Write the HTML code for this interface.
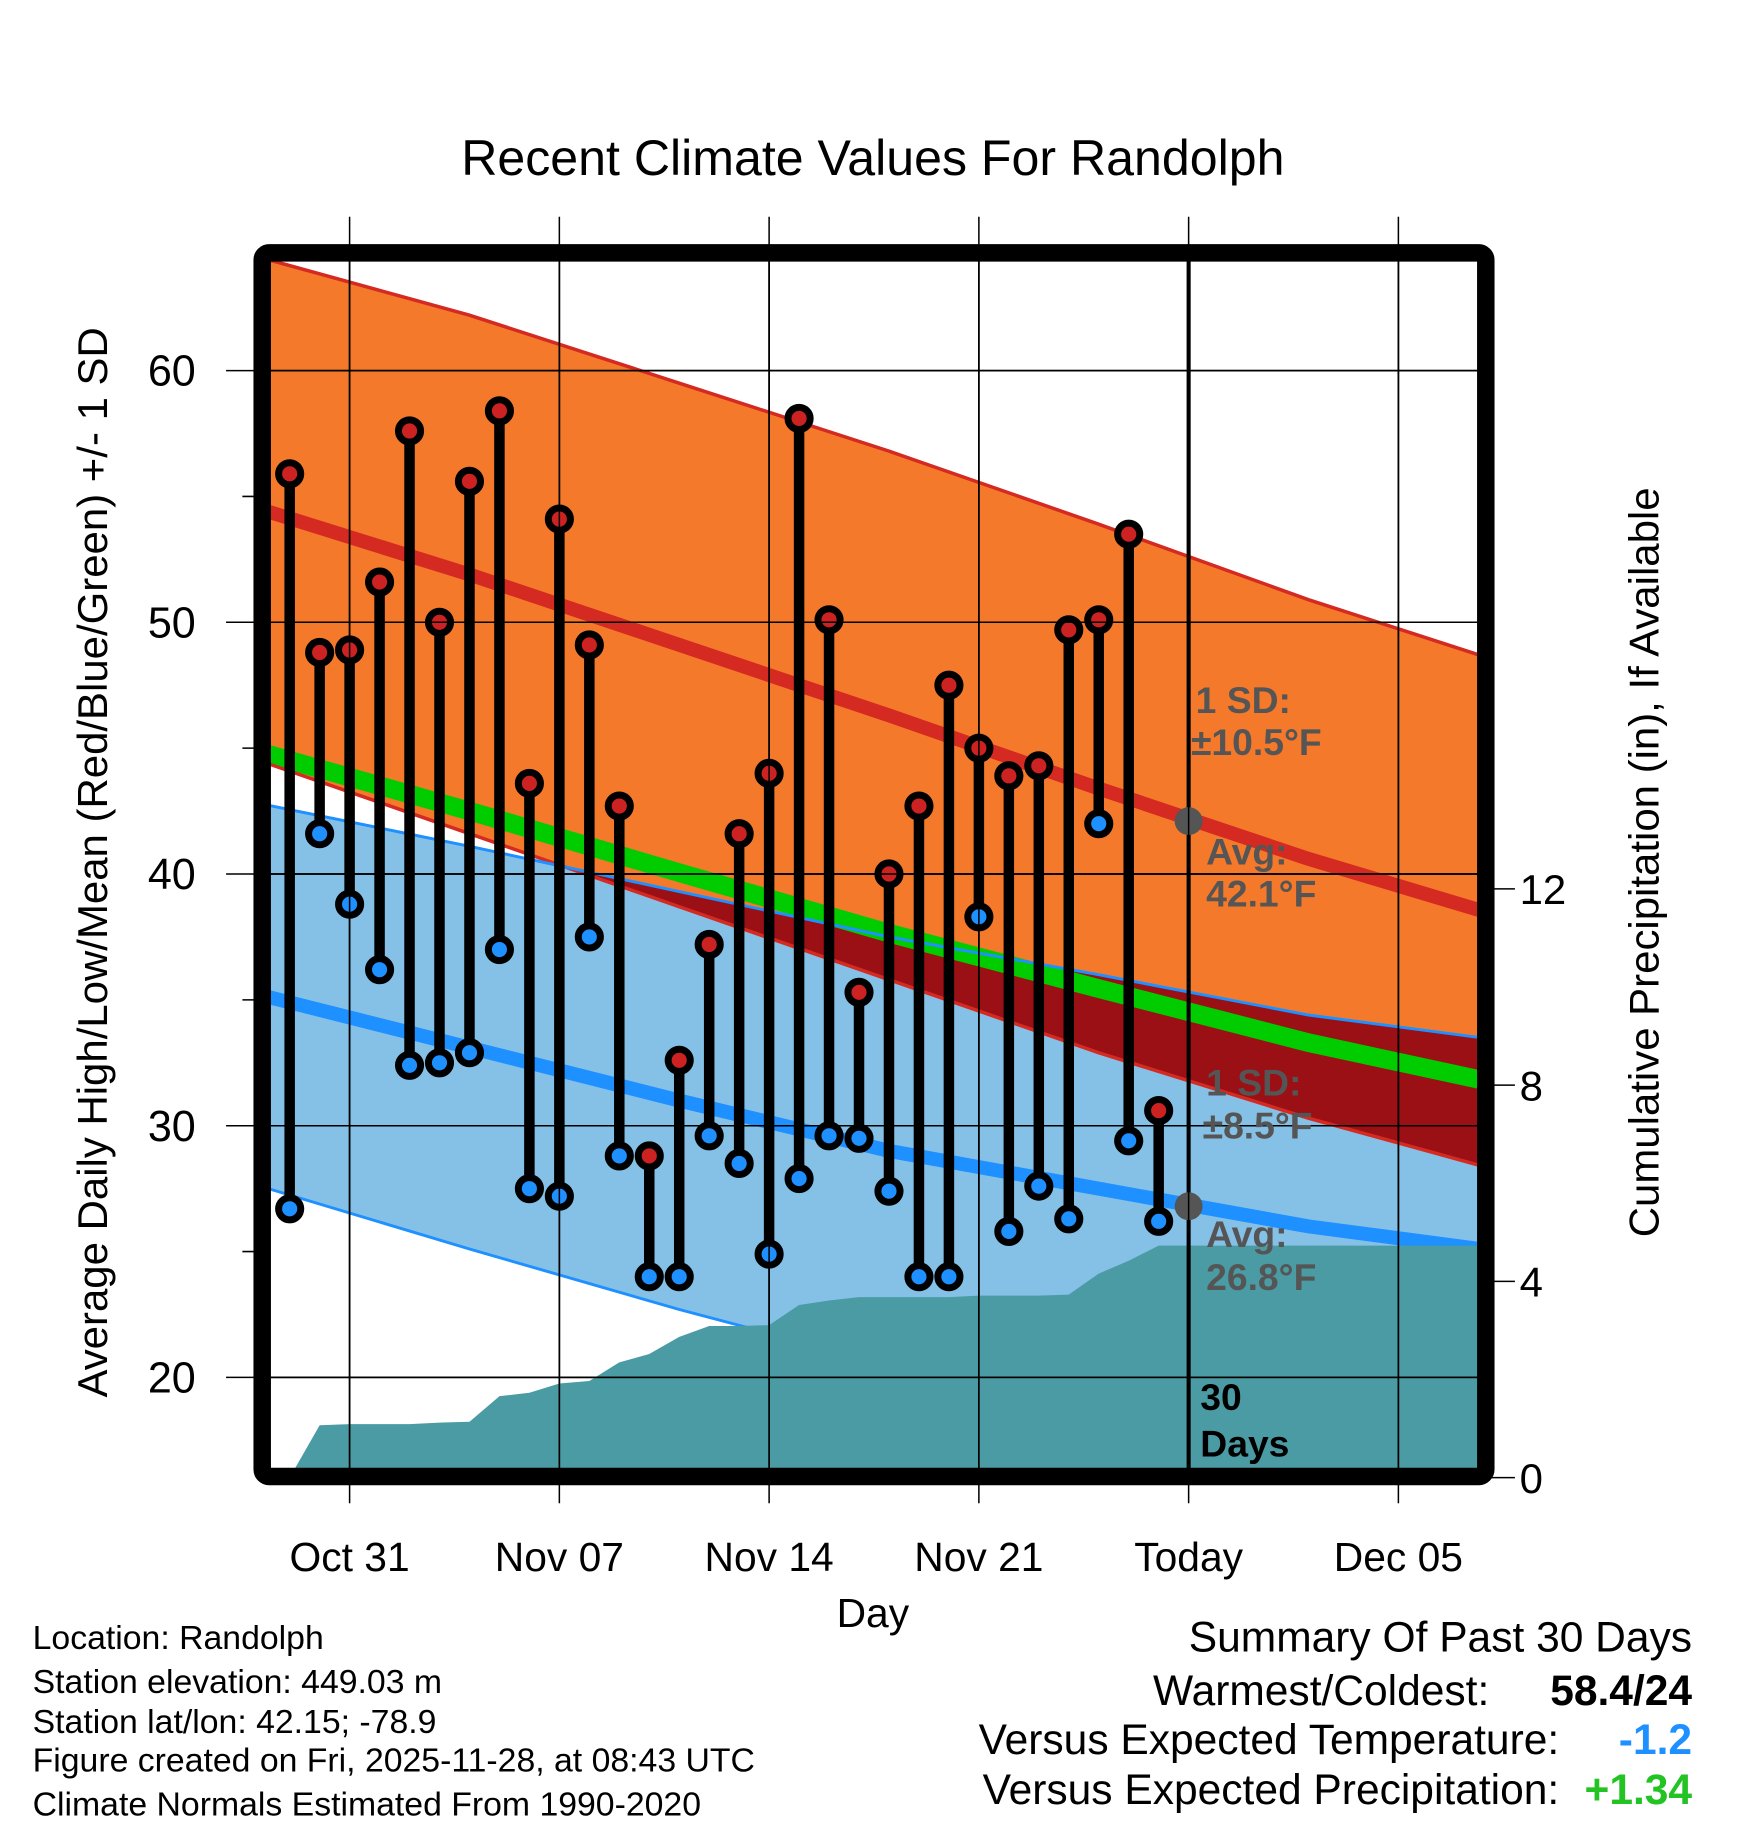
<!DOCTYPE html>
<html><head><meta charset="utf-8"><style>html,body{margin:0;padding:0;background:#fff}svg{display:block}text{font-family:"Liberation Sans",sans-serif}</style></head>
<body>
<svg id="chart" width="1748" height="1828" viewBox="0 0 1500 1568.65" xmlns="http://www.w3.org/2000/svg">
<defs><clipPath id="plotClip"><rect x="232" y="224" width="1036" height="1036"/></clipPath></defs>
<text x="749" y="150" font-size="43" text-anchor="middle">Recent Climate Values For Randolph</text>
<g id="plot" clip-path="url(#plotClip)"></g>
<g id="axes"></g>
<rect x="225" y="217" width="1050" height="1050" rx="6" fill="none" stroke="#000" stroke-width="15"/>
<text transform="translate(92,740) rotate(-90)" font-size="36" text-anchor="middle">Average Daily High/Low/Mean (Red/Blue/Green) +/- 1 SD</text>
<text transform="translate(1423,740) rotate(-90)" font-size="36" text-anchor="middle">Cumulative Precipitation (in), If Available</text>
<text x="749" y="1396" font-size="35" text-anchor="middle">Day</text>
<g font-size="32" font-weight="bold" fill="#555">
<text x="1026" y="612">1 SD:</text><text x="1022" y="648">±10.5°F</text>
<text x="1035" y="742">Avg:</text><text x="1035" y="778">42.1°F</text>
<text x="1035" y="940">1 SD:</text><text x="1032" y="977">±8.5°F</text>
<text x="1035" y="1070">Avg:</text><text x="1035" y="1107">26.8°F</text>
<text x="1030" y="1210" fill="#000">30</text><text x="1030" y="1250" fill="#000">Days</text>
</g>
<g font-size="29">
<text x="28" y="1415">Location: Randolph</text>
<text x="28" y="1453">Station elevation: 449.03 m</text>
<text x="28" y="1487">Station lat/lon: 42.15; -78.9</text>
<text x="28" y="1520">Figure created on Fri, 2025-11-28, at 08:43 UTC</text>
<text x="28" y="1558">Climate Normals Estimated From 1990-2020</text>
</g>
<g font-size="36.5" text-anchor="end">
<text x="1452" y="1417">Summary Of Past 30 Days</text>
<text x="1278" y="1463">Warmest/Coldest:</text>
<text x="1452" y="1463" font-weight="bold">58.4/24</text>
<text x="1338" y="1505">Versus Expected Temperature:</text>
<text x="1452" y="1505" font-weight="bold" fill="#1e90ff">-1.2</text>
<text x="1338" y="1548">Versus Expected Precipitation:</text>
<text x="1452" y="1548" font-weight="bold" fill="#22c322">+1.34</text>
</g>
</svg>
<script>
// days relative to Oct 31
const obsDays = [-2,-1,0,1,2,3,4,5,6,7,8,9,10,11,12,13,14,15,16,17,18,19,20,21,22,23,24,25,26,27];
const highs = [55.9,48.8,48.9,51.6,57.6,50.0,55.6,58.4,43.6,54.1,49.1,42.7,28.8,32.6,37.2,41.6,44.0,58.1,50.1,35.3,40.0,42.7,47.5,45.0,43.9,44.3,49.7,50.1,53.5,30.6];
const lows = [26.7,41.6,38.8,36.2,32.4,32.5,32.9,37.0,27.5,27.2,37.5,28.8,24.0,24.0,29.6,28.5,24.9,27.9,29.6,29.5,27.4,24.0,24.0,38.3,25.8,27.6,26.3,42.0,29.4,26.2];
const precip = [0,1.07,1.09,1.09,1.09,1.12,1.14,1.66,1.73,1.92,1.97,2.35,2.52,2.87,3.09,3.09,3.11,3.52,3.61,3.68,3.68,3.68,3.68,3.71,3.71,3.71,3.73,4.16,4.42,4.73];
const normDays = [-3,4,11,18,25,32,39];
const avgHigh = [54.5,51.9,49.1,46.3,43.4,40.6,38.1];
const sdHigh = [10.0,10.3,10.4,10.5,10.5,10.3,10.1];
const avgLow = [35.2,33.1,31.0,29.0,27.5,26.0,24.9];
const sdLow = [7.6,8.0,8.3,8.5,8.5,8.4,8.4];
const xTickDays = [0,7,14,21,28,35];
const xTickLabels = ["Oct 31","Nov 07","Nov 14","Nov 21","Today","Dec 05"];
const yTicks = [20,30,40,50,60];
const yMinor = [25,35,45,55];
const pTicks = [0,4,8,12];
const todayDay = 28;
const todayHigh = 42.1, todayLow = 26.8;

const X = d => 300 + d*25.714;
const Y = v => 318 + (60 - v)*21.6;
const P = v => 1268 - v*42.1;
const NS = "http://www.w3.org/2000/svg";
const plot = document.getElementById('plot');
const axes = document.getElementById('axes');
function mk(tag, attrs, parent){const e=document.createElementNS(NS,tag);for(const k in attrs)e.setAttribute(k,attrs[k]);parent.appendChild(e);return e;}
function line(vals){return normDays.map((d,i)=>X(d).toFixed(1)+','+Y(vals[i]).toFixed(1));}
const hiUp = avgHigh.map((v,i)=>v+sdHigh[i]), hiDn = avgHigh.map((v,i)=>v-sdHigh[i]);
const loUp = avgLow.map((v,i)=>v+sdLow[i]), loDn = avgLow.map((v,i)=>v-sdLow[i]);
const mean = avgHigh.map((v,i)=>(v+avgLow[i])/2);
const orangeD = 'M'+line(hiUp).join(' L')+' L'+line(hiDn).reverse().join(' L')+'Z';
const blueD = 'M'+line(loUp).join(' L')+' L'+line(loDn).reverse().join(' L')+'Z';

let e;
e = mk('path',{d:orangeD,fill:'#f5792b'},plot);


e = mk('path',{d:blueD,fill:'#85c1e6'},plot);


const cp = mk('clipPath',{id:'blueClip'},plot);
mk('path',{d:blueD},cp);
e = mk('path',{d:orangeD,fill:'#9a1014','clip-path':'url(#blueClip)'},plot);



// grid
xTickDays.forEach(d=>{e=mk('line',{x1:X(d),x2:X(d),y1:186,y2:1290,stroke:'#000','stroke-width':1.3},axes);

});
yTicks.forEach(v=>{e=mk('line',{x1:194,x2:1268,y1:Y(v),y2:Y(v),stroke:'#000','stroke-width':1.3},axes);

});
yMinor.forEach(v=>{mk('line',{x1:208,x2:225,y1:Y(v),y2:Y(v),stroke:'#000','stroke-width':1.3},axes);});
pTicks.forEach(v=>{mk('line',{x1:1275,x2:1300,y1:P(v),y2:P(v),stroke:'#000','stroke-width':1.3},axes);
e=mk('text',{x:1304,y:P(v)+13,'font-size':36},axes);e.textContent=v;

});
yTicks.forEach(v=>{e=mk('text',{x:168,y:Y(v)+13,'font-size':37,'text-anchor':'end'},axes);e.textContent=v;

});
xTickDays.forEach((d,i)=>{e=mk('text',{x:X(d),y:1348,'font-size':35,'text-anchor':'middle'},axes);e.textContent=xTickLabels[i];

});
xTickDays.forEach(d=>{mk('line',{x1:X(d),x2:X(d),y1:224,y2:1260,stroke:'#000','stroke-width':1.3},plot);});
yTicks.forEach(v=>{mk('line',{x1:232,x2:1268,y1:Y(v),y2:Y(v),stroke:'#000','stroke-width':1.3},plot);});

function pl(vals,color,w,name){e=mk('polyline',{points:line(vals).join(' '),fill:'none',stroke:color,'stroke-width':w},plot);

}
pl(mean,'#00cc00',16,'mean-normal-line');
pl(hiUp,'#d42a22',3,'high-upper-sd-line');
pl(hiDn,'#d42a22',3,'high-lower-sd-line');
pl(avgHigh,'#d42a22',12,'avg-high-line');
pl(loUp,'#1e90ff',2.5,'low-upper-sd-line');
pl(loDn,'#1e90ff',2.5,'low-lower-sd-line');
pl(avgLow,'#1e90ff',12,'avg-low-line');

// precip area (on top of normal lines)
let pd = 'M'+X(obsDays[0])+','+P(0);
obsDays.forEach((d,i)=>{pd+=' L'+X(d).toFixed(1)+','+P(precip[i]).toFixed(1);});
pd += ' L1300,'+P(precip[precip.length-1]).toFixed(1)+' L1300,1300 L'+X(obsDays[0])+',1300Z';
e = mk('path',{d:pd,fill:'#4a9ba3'},plot);


xTickDays.forEach(d=>{mk('line',{x1:X(d),x2:X(d),y1:224,y2:1260,stroke:'#000','stroke-width':1.3},plot);});
yTicks.forEach(v=>{mk('line',{x1:232,x2:1268,y1:Y(v),y2:Y(v),stroke:'#000','stroke-width':1.3},plot);});

e = mk('line',{x1:X(todayDay),x2:X(todayDay),y1:224,y2:1260,stroke:'#000','stroke-width':3.5},plot);



obsDays.forEach((d,i)=>{
  e=mk('line',{x1:X(d),x2:X(d),y1:Y(highs[i]),y2:Y(lows[i]),stroke:'#000','stroke-width':9},plot);
  
  
});
function dot(x,y,c,name){
  e=mk('circle',{cx:x,cy:y,r:9.5,fill:c,stroke:'#000','stroke-width':6},plot);
  
  
}
obsDays.forEach((d,i)=>{dot(X(d),Y(highs[i]),'#cc2222','daily-high-point');dot(X(d),Y(lows[i]),'#1e90ff','daily-low-point');});
e=mk('circle',{cx:X(todayDay),cy:Y(todayHigh),r:12,fill:'#555'},plot);


e=mk('circle',{cx:X(todayDay),cy:Y(todayLow),r:12,fill:'#555'},plot);


</script>
</body></html>
